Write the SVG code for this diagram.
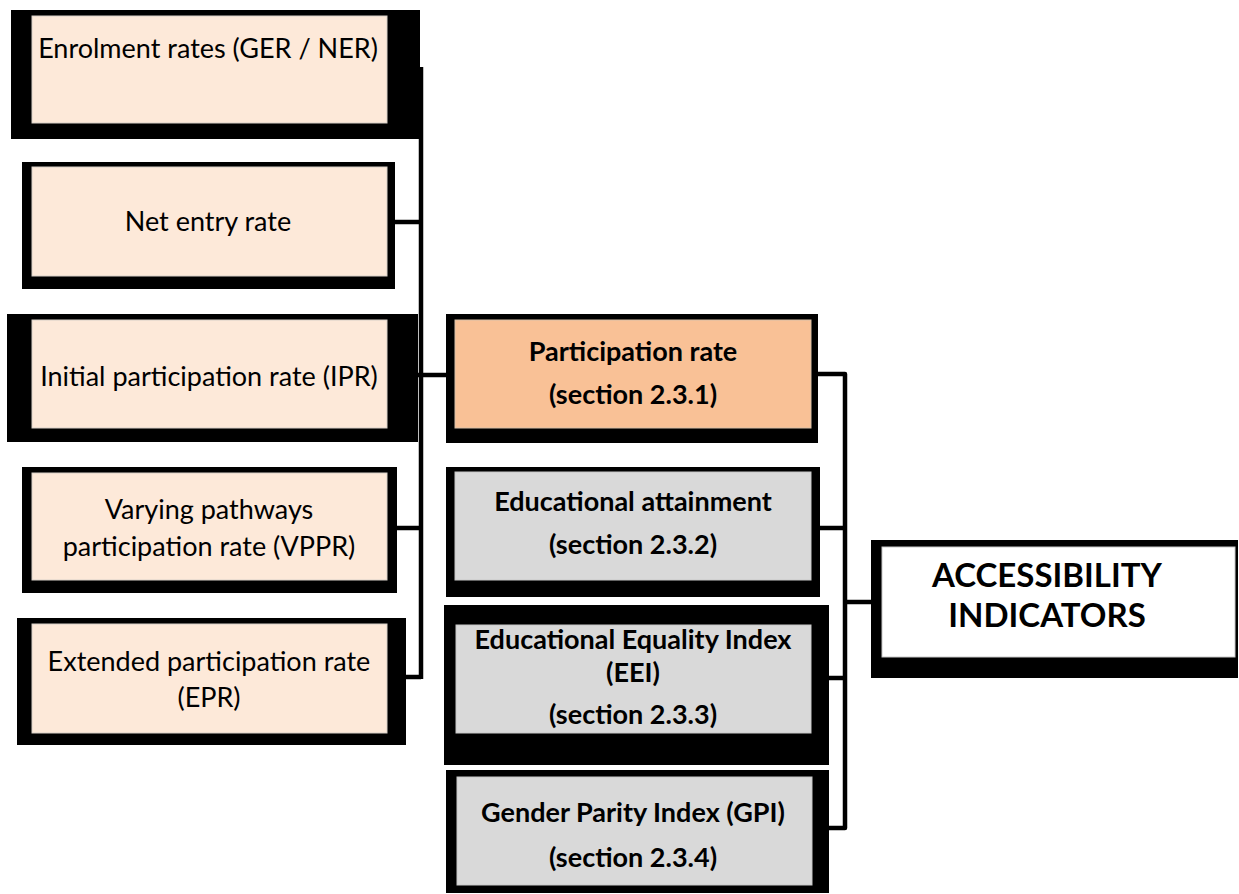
<svg xmlns="http://www.w3.org/2000/svg" width="1239" height="894" viewBox="0 0 1239 894">
<style>
.frame{fill:#000}
.sub{fill:#FDE9D9;stroke:#d8d0c8;stroke-width:1}
.main{fill:#F9C196;stroke:#d8c0a8;stroke-width:1}
.grey{fill:#D9D9D9;stroke:#c8c8c8;stroke-width:1}
.top{fill:#FFFFFF;stroke:#c8c8c8;stroke-width:1}
.t{font-family:Lato,"Liberation Sans",sans-serif;font-size:27px;fill:#000;text-anchor:middle}
.b{font-family:Lato,"Liberation Sans",sans-serif;font-size:27px;font-weight:bold;fill:#000;text-anchor:middle}
.h{font-family:Lato,"Liberation Sans",sans-serif;font-size:33px;font-weight:bold;fill:#000;text-anchor:middle}
.c{fill:none;stroke:#000;stroke-width:4.5;stroke-linejoin:round}
</style>
<g id="connectors">
<path class="c" d="M421,67 V679"/>
<path class="c" d="M395,222 H421"/>
<path class="c" d="M418,375 H447"/>
<path class="c" d="M397,528 H421"/>
<path class="c" d="M406,677 H421"/>
<path class="c" d="M818,374 H845 V828 H828"/>
<path class="c" d="M820,528 H845"/>
<path class="c" d="M828,678 H845"/>
<path class="c" d="M845,602 H872"/>
</g>
<g id="node-enrolment">
<rect class="frame" x="11" y="10" width="409" height="129"/>
<rect class="sub" x="32" y="16" width="355" height="107"/>
<text class="t" x="208" y="58">Enrolment rates (GER / NER)</text>
</g>
<g id="node-net-entry">
<rect class="frame" x="22" y="162" width="373" height="127"/>
<rect class="sub" x="32" y="167" width="355" height="109"/>
<text class="t" x="208" y="231">Net entry rate</text>
</g>
<g id="node-ipr">
<rect class="frame" x="7" y="314" width="411" height="128"/>
<rect class="sub" x="32" y="320" width="355" height="108"/>
<text class="t" x="209" y="386">Initial participation rate (IPR)</text>
</g>
<g id="node-vppr">
<rect class="frame" x="22" y="467" width="375" height="126"/>
<rect class="sub" x="32" y="473" width="355" height="107"/>
<text class="t" x="209" y="519">Varying pathways</text>
<text class="t" x="209" y="556">participation rate (VPPR)</text>
</g>
<g id="node-epr">
<rect class="frame" x="17" y="618" width="389" height="127"/>
<rect class="sub" x="32" y="624" width="355" height="109"/>
<text class="t" x="209" y="671">Extended participation rate</text>
<text class="t" x="209" y="707">(EPR)</text>
</g>
<g id="node-participation">
<rect class="frame" x="446" y="314" width="372" height="129"/>
<rect class="main" x="455" y="320" width="356" height="108"/>
<text class="b" x="633" y="361">Participation rate</text>
<text class="b" x="633" y="404">(section 2.3.1)</text>
</g>
<g id="node-attainment">
<rect class="frame" x="446" y="467" width="374" height="130"/>
<rect class="grey" x="455" y="472" width="356" height="108"/>
<text class="b" x="633" y="511">Educational attainment</text>
<text class="b" x="633" y="554">(section 2.3.2)</text>
</g>
<g id="node-eei">
<rect class="frame" x="444" y="605" width="385" height="160"/>
<rect class="grey" x="456" y="625" width="355" height="108"/>
<text class="b" x="633" y="649">Educational Equality Index</text>
<text class="b" x="633" y="682">(EEI)</text>
<text class="b" x="633" y="724">(section 2.3.3)</text>
</g>
<g id="node-gpi">
<rect class="frame" x="446" y="770" width="383" height="123"/>
<rect class="grey" x="457" y="777" width="355" height="108"/>
<text class="b" x="633" y="822">Gender Parity Index (GPI)</text>
<text class="b" x="633" y="867">(section 2.3.4)</text>
</g>
<g id="node-accessibility">
<rect class="frame" x="871" y="540" width="367" height="138"/>
<rect class="top" x="882" y="547" width="353" height="110"/>
<text class="h" x="1047" y="587">ACCESSIBILITY</text>
<text class="h" x="1047" y="627">INDICATORS</text>
</g>
</svg>
